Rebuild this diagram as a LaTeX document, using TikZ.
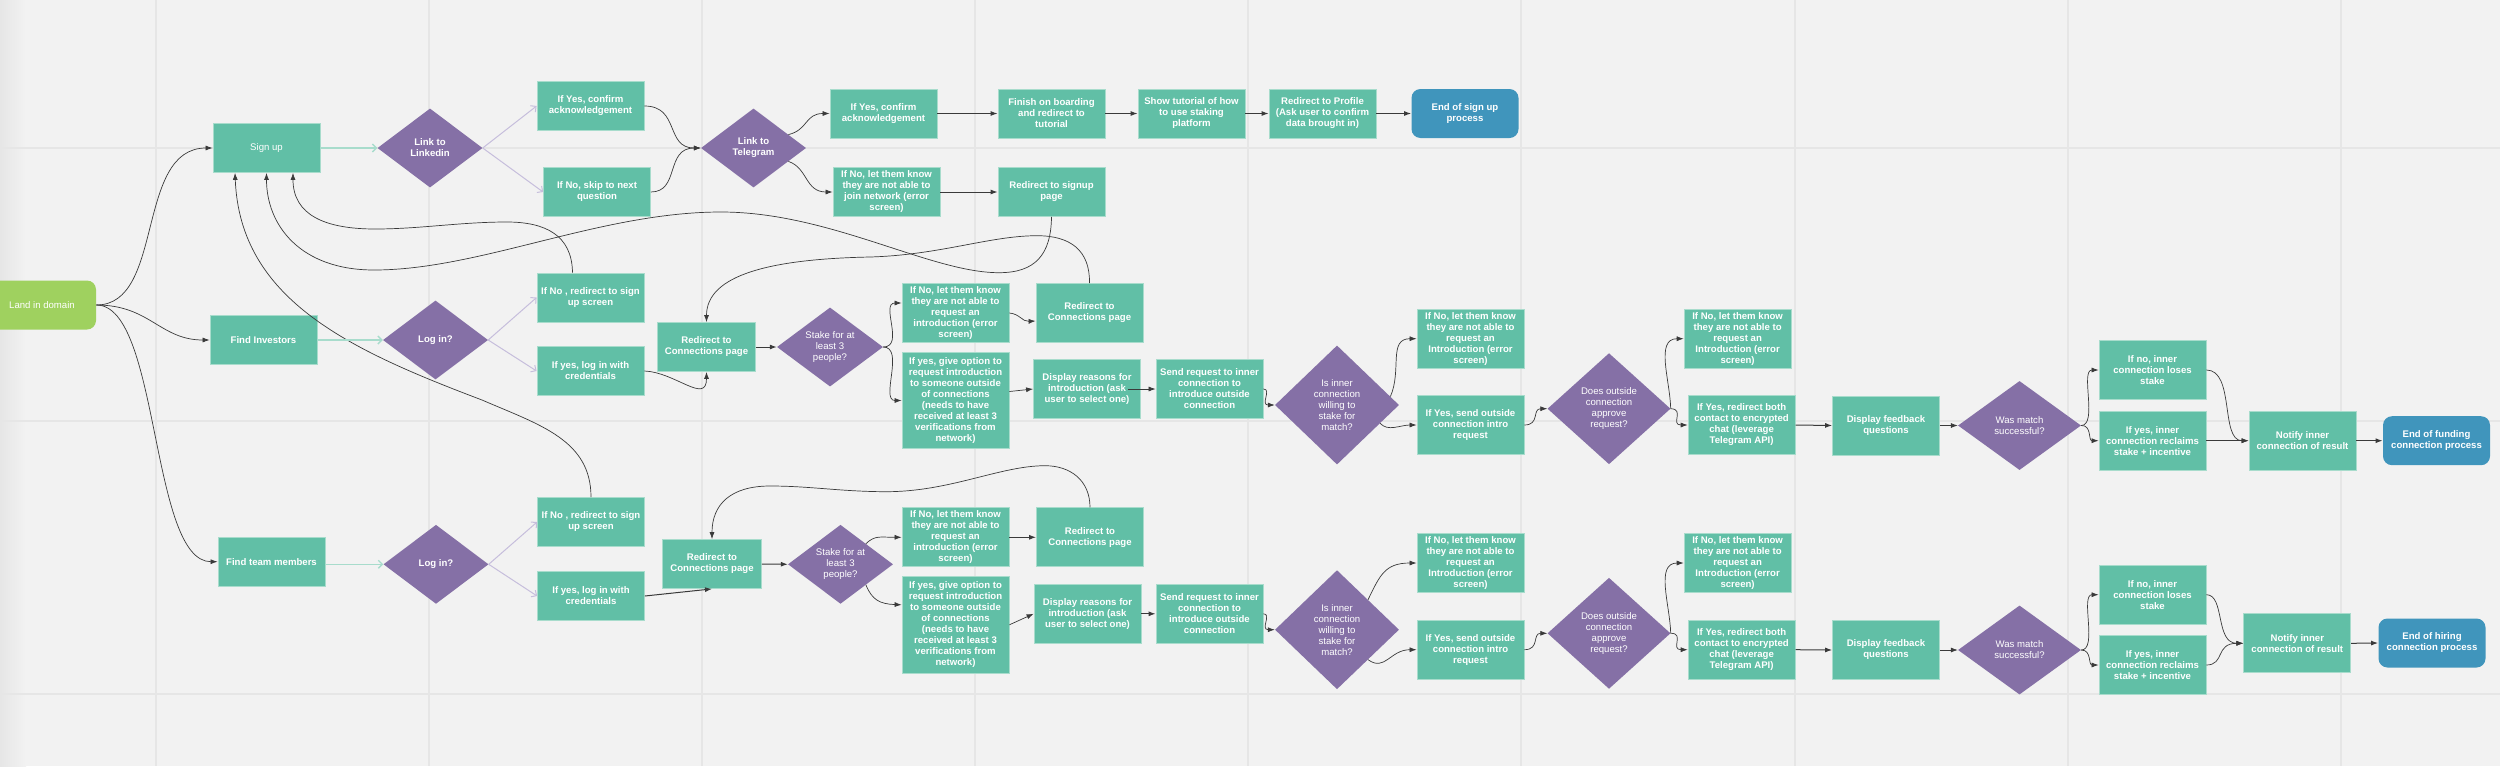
\documentclass[tikz,border=0pt]{standalone}
\usepackage{xcolor}
\usepackage{fontspec}
\setmainfont{Liberation Sans}
\usepackage{tikz}
\usetikzlibrary{positioning,shapes.geometric,arrows.meta}

\definecolor{bgGrey}{HTML}{F2F2F2}
\definecolor{gridGrey}{HTML}{E6E6E6}
\definecolor{boxTeal}{HTML}{61BFA6}
\definecolor{boxEdge}{HTML}{A8DCCC}
\definecolor{decPurple}{HTML}{8570A6}
\definecolor{endBlue}{HTML}{4095BC}
\definecolor{startGreen}{HTML}{9FD15F}
\definecolor{lightPurple}{HTML}{C6BEDC}
\definecolor{flowGrey}{HTML}{3A3A3A}

\tikzset{
    box/.style={rectangle, fill=boxTeal, draw=boxEdge, line width=0.8pt, minimum width=107pt, minimum height=49pt, inner sep=0pt, align=center, text=white, font=\fontsize{9.6}{11}\selectfont\bfseries},
    tall/.style={box, minimum height=59pt},
    dec/.style={diamond, aspect=1.3, fill=decPurple, inner sep=0pt, align=center, text=white, minimum width=105pt, minimum height=79pt, font=\fontsize{9.6}{11}\selectfont\bfseries},
    plain/.style={font=\fontsize{9.6}{11}\selectfont},
    stop/.style={box, fill=endBlue, draw=none, rounded corners=9pt},
    flow/.style={flowGrey, line width=0.7pt, -{Latex[length=7pt,width=5pt]}},
    thickflow/.style={flow, line width=1pt},
    tealflow/.style={boxEdge, line width=1.4pt, -{Straight Barb[length=4pt,width=8pt]}},
    purpflow/.style={lightPurple, line width=1pt, -{Straight Barb[length=4pt,width=8pt]}}
}

\begin{document}
\begin{tikzpicture}[x=1pt,y=-1pt]

    % Hintergrund
    \useasboundingbox (0,0) rectangle (2500,766);
    \fill[bgGrey] (0,0) rectangle (2500,766);
    \shade[left color=gridGrey, right color=bgGrey] (0,0) rectangle (26,766);
    \foreach \xpos in {156,429,702,975,1248,1521,1795,2068,2341}
        \draw[gridGrey, line width=1.4pt] (\xpos,0) -- (\xpos,766);
    \foreach \ypos in {148,421,694}
        \draw[gridGrey, line width=1.8pt] (0,\ypos) -- (2500,\ypos);

    % Start
    \node (Land) at (42,305) [box, plain, fill=startGreen, draw=none, rounded corners=9pt, minimum width=108pt] {Land in domain};

    % Sign up
    \node (SignUp) at (266.5,148) [box, plain] {Sign up};
    \node (Linkedin) at (430,148) [dec] {Link to\\Linkedin};
    \node (YesLink) at (590.5,106) [box] {If Yes, confirm\\acknowledgement};
    \node (NoLink) at (597,192) [box] {If No, skip to next\\question};
    \node (Telegram) at (753.5,148) [dec] {Link to\\Telegram};
    \node (YesTele) at (883.5,113.5) [box] {If Yes, confirm\\acknowledgement};
    \node (NoTele) at (886.5,192) [box] {If No, let them know\\they are not able to\\join network (error\\screen)};
    \node (Finish) at (1051.5,113.5) [box] {Finish on boarding\\and redirect to\\tutorial};
    \node (Tutorial) at (1191.5,113.5) [box] {Show tutorial of how\\to use staking\\platform};
    \node (Profile) at (1322.5,113.5) [box] {Redirect to Profile\\(Ask user to confirm\\data brought in)};
    \node (EndSign) at (1465,113.5) [stop] {End of sign up\\process};
    \node (BackSign) at (1051.5,192) [box] {Redirect to signup\\page};

    % Investoren
    \node (Investors) at (263.5,340) [box] {Find Investors};
    \node (LogA) at (435.5,340) [dec] {Log in?};
    \node (NoLogA) at (590.5,297.5) [box] {If No , redirect to sign\\up screen};
    \node (YesLogA) at (590.5,371) [box] {If yes, log in with\\credentials};
    \node (ConnA) at (706.5,347) [box, minimum width=98pt] {Redirect to\\Connections page};
    \node (StakeA) at (830,347) [dec, plain, minimum width=106pt] {Stake for at\\least 3\\people?};
    \node (NoStakeA) at (955.5,313) [tall] {If No, let them know\\they are not able to\\request an\\introduction (error\\screen)};
    \node (BackA) at (1089.5,313) [tall] {Redirect to\\Connections page};
    \node (YesStakeA) at (955.5,400.5) [box, minimum height=96pt] {If yes, give option to\\request introduction\\to someone outside\\of connections\\(needs to have\\received at least 3\\verifications from\\network)};
    \node (ReasonA) at (1087,389) [tall] {Display reasons for\\introduction (ask\\user to select one)};
    \node (SendA) at (1209.5,389) [tall] {Send request to inner\\connection to\\introduce outside\\connection};
    \node (InnerA) at (1337,405) [dec, plain, minimum width=124pt, minimum height=119pt] {Is inner\\connection\\willing to\\stake for\\match?};
    \node (NoInnerA) at (1470.5,338.7) [tall] {If No, let them know\\they are not able to\\request an\\Introduction (error\\screen)};
    \node (YesInnerA) at (1470.5,425) [tall] {If Yes, send outside\\connection intro\\request};
    \node (OuterA) at (1609,408.7) [dec, plain, minimum width=123pt, minimum height=111pt] {Does outside\\connection\\approve\\request?};
    \node (NoOuterA) at (1737.6,338.7) [tall] {If No, let them know\\they are not able to\\request an\\Introduction (error\\screen)};
    \node (YesOuterA) at (1741.6,425) [tall] {If Yes, redirect both\\contact to encrypted\\chat (leverage\\Telegram API)};
    \node (FeedA) at (1886,425.5) [tall] {Display feedback\\questions};
    \node (MatchA) at (2019.5,425.5) [dec, plain, minimum width=123pt, minimum height=89pt] {Was match\\successful?};
    \node (LoseA) at (2152.5,370) [tall] {If no, inner\\connection loses\\stake};
    \node (GainA) at (2152.5,440.7) [tall] {If yes, inner\\connection reclaims\\stake + incentive};
    \node (NotifyA) at (2302.5,440.7) [tall] {Notify inner\\connection of result};
    \node (EndFund) at (2436.5,440.7) [stop] {End of funding\\connection process};

    % Team
    \node (Team) at (271.5,561.7) [box] {Find team members};
    \node (LogB) at (436,564.3) [dec] {Log in?};
    \node (NoLogB) at (591,522) [box] {If No , redirect to sign\\up screen};
    \node (YesLogB) at (591,596) [box] {If yes, log in with\\credentials};
    \node (ConnB) at (712,564) [box, minimum width=99pt] {Redirect to\\Connections page};
    \node (StakeB) at (840.5,564.3) [dec, plain] {Stake for at\\least 3\\people?};
    \node (NoStakeB) at (955.5,537.3) [tall] {If No, let them know\\they are not able to\\request an\\introduction (error\\screen)};
    \node (BackB) at (1090,537.3) [tall] {Redirect to\\Connections page};
    \node (YesStakeB) at (955.5,624.8) [box, minimum height=97pt] {If yes, give option to\\request introduction\\to someone outside\\of connections\\(needs to have\\received at least 3\\verifications from\\network)};
    \node (ReasonB) at (1087.5,613.8) [tall] {Display reasons for\\introduction (ask\\user to select one)};
    \node (SendB) at (1209.5,613.8) [tall] {Send request to inner\\connection to\\introduce outside\\connection};
    \node (InnerB) at (1337,629.7) [dec, plain, minimum width=124pt, minimum height=119pt] {Is inner\\connection\\willing to\\stake for\\match?};
    \node (NoInnerB) at (1470.5,563) [tall] {If No, let them know\\they are not able to\\request an\\Introduction (error\\screen)};
    \node (YesInnerB) at (1470.5,649.7) [tall] {If Yes, send outside\\connection intro\\request};
    \node (OuterB) at (1609,633.3) [dec, plain, minimum width=123pt, minimum height=111pt] {Does outside\\connection\\approve\\request?};
    \node (NoOuterB) at (1737.6,563) [tall] {If No, let them know\\they are not able to\\request an\\Introduction (error\\screen)};
    \node (YesOuterB) at (1741.6,649.7) [tall] {If Yes, redirect both\\contact to encrypted\\chat (leverage\\Telegram API)};
    \node (FeedB) at (1886,650) [tall] {Display feedback\\questions};
    \node (MatchB) at (2019.5,650) [dec, plain, minimum width=123pt, minimum height=89pt] {Was match\\successful?};
    \node (LoseB) at (2152.5,594.7) [tall] {If no, inner\\connection loses\\stake};
    \node (GainB) at (2152.5,665) [tall] {If yes, inner\\connection reclaims\\stake + incentive};
    \node (NotifyB) at (2297.3,643.3) [tall] {Notify inner\\connection of result};
    \node (EndHire) at (2432,643) [stop] {End of hiring\\connection process};

    % Verbindungen Start
    \draw[flow] (Land.east) .. controls (165,305) and (135,148) .. (SignUp.west);
    \draw[flow] (Land.east) .. controls (150,305) and (160,340) .. (Investors.west);
    \draw[flow] (Land.east) .. controls (160,305) and (150,561.7) .. (Team.west);

    % Verbindungen Sign up
    \draw[tealflow] (SignUp.east) -- (Linkedin.west);
    \draw[purpflow] (Linkedin.east) -- (YesLink.west);
    \draw[purpflow] (Linkedin.east) -- (NoLink.west);
    \draw[flow] (YesLink.east) .. controls (680,106) and (665,148) .. (Telegram.west);
    \draw[flow] (NoLink.east) .. controls (680,192) and (665,148) .. (Telegram.west);
    \draw[flow] (Telegram.21) .. controls (808,130) and (805,113.5) .. (YesTele.west);
    \draw[flow] (Telegram.-21) .. controls (808,168) and (805,192) .. (NoTele.west);
    \draw[thickflow] (YesTele.east) -- (Finish.west);
    \draw[thickflow] (Finish.east) -- (Tutorial.west);
    \draw[thickflow] (Tutorial.east) -- (Profile.west);
    \draw[thickflow] (Profile.east) -- (EndSign.west);
    \draw[thickflow] (NoTele.east) -- (BackSign.west);

    % Verbindungen zurueck
    \draw[flow] (BackSign.south) .. controls (1051,255) and (1035,272.7) .. (999,272.7) .. controls (930,272.7) and (830,212) .. (721,212) .. controls (600,212) and (480,270) .. (374,270) .. controls (300,270) and (266.5,225) .. (SignUp.south);
    \draw[flow] ([xshift=-18pt]NoLogA.north) .. controls (572,235) and (545,222) .. (507,222) .. controls (460,222) and (420,229) .. (375,229) .. controls (325,229) and (293,215) .. ([xshift=26.5pt]SignUp.south);
    \draw[flow] (NoLogB.north) .. controls (591,440) and (540,425) .. (482,400) .. controls (350,350) and (240,300) .. ([xshift=-31.5pt]SignUp.south);
    \draw[flow] (BackA.north) .. controls (1090,250) and (1070,235.7) .. (1037,235.7) .. controls (990,235.7) and (940,255) .. (870,257) .. controls (770,259) and (706.5,275) .. (ConnA.north);
    \draw[flow] (BackB.north) .. controls (1090,480) and (1070,465.7) .. (1045,465.7) .. controls (1000,465.7) and (950,492) .. (885,491.7) .. controls (840,491.5) and (810,486) .. (770,486) .. controls (730,486) and (712,505) .. (ConnB.north);

    % Verbindungen Investoren
    \draw[tealflow] (Investors.east) -- (LogA.west);
    \draw[purpflow] (LogA.east) -- (NoLogA.west);
    \draw[purpflow] (LogA.east) -- (YesLogA.west);
    \draw[flow] (YesLogA.east) .. controls (675,372) and (706.5,405) .. (ConnA.south);
    \draw[thickflow] (ConnA.east) -- (StakeA.west);
    \draw[flow] (StakeA.east) .. controls (905,347) and (880,303) .. ([yshift=10pt]NoStakeA.west);
    \draw[flow] (StakeA.east) .. controls (905,347) and (880,400.5) .. (YesStakeA.west);
    \draw[flow] (NoStakeA.east) .. controls (1020,314) and (1022,321.7) .. ([yshift=-8pt]BackA.west);
    \draw[flow] ([yshift=9pt]YesStakeA.east) -- (ReasonA.west);
    \draw[flow] ([xshift=-13pt]ReasonA.east) -- (SendA.west);
    \draw[flow] (SendA.east) .. controls (1272,389) and (1260,405) .. (InnerA.west);
    \draw[flow] (InnerA.9) .. controls (1402,370) and (1388,338.7) .. (NoInnerA.west);
    \draw[flow] (InnerA.-23) .. controls (1388,432) and (1400,425) .. (YesInnerA.west);
    \draw[flow] (YesInnerA.east) .. controls (1540,425) and (1532,408.7) .. (OuterA.west);
    \draw[flow] (OuterA.east) .. controls (1670,380) and (1655,338.7) .. (NoOuterA.west);
    \draw[flow] (OuterA.east) .. controls (1685,409) and (1670,425) .. (YesOuterA.west);
    \draw[thickflow] (YesOuterA.east) -- (FeedA.west);
    \draw[flow] (FeedA.east) -- (MatchA.west);
    \draw[flow] (MatchA.east) .. controls (2098,425) and (2080,370) .. (LoseA.west);
    \draw[flow] (MatchA.east) .. controls (2092,425) and (2088,440.7) .. (GainA.west);
    \draw[flow] (LoseA.east) .. controls (2235,370) and (2220,440.7) .. (NotifyA.west);
    \draw[thickflow] (GainA.east) -- (NotifyA.west);
    \draw[thickflow] (NotifyA.east) -- (EndFund.west);

    % Verbindungen Team
    \draw[tealflow] (LogB.west -| Team.east) -- (LogB.west);
    \draw[purpflow] (LogB.east) -- (NoLogB.west);
    \draw[purpflow] (LogB.east) -- (YesLogB.west);
    \draw[thickflow] (YesLogB.east) -- (ConnB.south);
    \draw[thickflow] (ConnB.east) -- (StakeB.west);
    \draw[flow] (StakeB.39) .. controls (875,535) and (880,537.3) .. (NoStakeB.west);
    \draw[flow] (StakeB.-39) .. controls (872,600) and (880,604) .. ([yshift=20pt]YesStakeB.west);
    \draw[thickflow] (NoStakeB.east) -- (BackB.west);
    \draw[flow] (YesStakeB.east) -- (ReasonB.west);
    \draw[thickflow] (ReasonB.east) -- (SendB.west);
    \draw[flow] (SendB.east) .. controls (1272,613.8) and (1260,629.7) .. (InnerB.west);
    \draw[flow] (InnerB.44) .. controls (1380,575) and (1385,563) .. (NoInnerB.west);
    \draw[flow] (InnerB.-44) .. controls (1385,672) and (1390,649.7) .. (YesInnerB.west);
    \draw[flow] (YesInnerB.east) .. controls (1540,649.7) and (1532,633.3) .. (OuterB.west);
    \draw[flow] (OuterB.east) .. controls (1670,605) and (1655,563) .. (NoOuterB.west);
    \draw[flow] (OuterB.east) .. controls (1685,633) and (1670,649.7) .. (YesOuterB.west);
    \draw[thickflow] (YesOuterB.east) -- (FeedB.west);
    \draw[flow] (FeedB.east) -- (MatchB.west);
    \draw[flow] (MatchB.east) .. controls (2098,650) and (2080,594.7) .. (LoseB.west);
    \draw[flow] (MatchB.east) .. controls (2092,650) and (2088,665) .. (GainB.west);
    \draw[flow] (LoseB.east) .. controls (2225,594.7) and (2215,643.3) .. (NotifyB.west);
    \draw[flow] (GainB.east) .. controls (2225,665) and (2215,643.3) .. (NotifyB.west);
    \draw[thickflow] (NotifyB.east) -- (EndHire.west);
\end{tikzpicture}
\end{document}
